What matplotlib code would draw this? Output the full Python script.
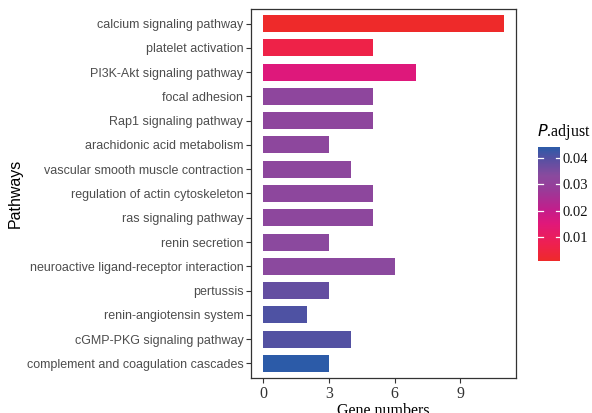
import matplotlib.pyplot as plt
import numpy as np
from matplotlib.colors import LinearSegmentedColormap, Normalize
from matplotlib.cm import ScalarMappable

pathways = ["calcium signaling pathway", "platelet activation", "PI3K-Akt signaling pathway",
            "focal adhesion", "Rap1 signaling pathway", "arachidonic acid metabolism",
            "vascular smooth muscle contraction", "regulation of actin cytoskeleton",
            "ras signaling pathway", "renin secretion", "neuroactive ligand-receptor interaction",
            "pertussis", "renin-angiotensin system", "cGMP-PKG signaling pathway",
            "complement and coagulation cascades"]
gene_numbers = [11, 5, 7, 5, 5, 3, 4, 5, 5, 3, 6, 3, 2, 4, 3]
p_adjust = [0.0009, 0.006, 0.0155, 0.032, 0.032, 0.0325, 0.0325, 0.0325, 0.0325, 0.033,
            0.033, 0.038, 0.0405, 0.040, 0.0442]

# red -> magenta -> purple -> blue, colours
cmap = LinearSegmentedColormap.from_list("padj", [
    (0.0, "#EE2A2A"), (0.15, "#EE2050"), (0.33, "#E0187A"), (0.45, "#C21E8B"),
    (0.62, "#9A3A98"), (0.75, "#8A4A9E"), (0.9, "#5550A2"), (1.0, "#2C5BA8")])
norm = Normalize(min(p_adjust), max(p_adjust))

fig = plt.figure(figsize=(5.92, 4.13), dpi=100)
ax = fig.add_axes([0.424, 0.085, 0.448, 0.893])

y = np.arange(len(pathways))
ax.barh(y, gene_numbers, height=0.7, color=cmap(norm(p_adjust)))
ax.set_ylim(len(pathways) - 0.4, -0.6)
ax.set_xlim(-0.55, 11.55)
ax.set_yticks(y)
ax.set_yticklabels(pathways, fontsize=9.0, color="#4D4D4D", family="Liberation Sans")
ax.set_xticks([0, 3, 6, 9])
ax.set_xticklabels(["0", "3", "6", "9"], fontsize=11.5, color="#333333", family="Liberation Serif")
ax.tick_params(length=3.5, width=0.8, color="#333333", pad=2)
for s in ax.spines.values():
    s.set_color("#333333")
    s.set_linewidth(0.9)
ax.set_xlabel("Gene numbers", fontsize=11.5, family="Liberation Serif", labelpad=1)
ax.set_ylabel("Pathways", fontsize=11.5, family="Liberation Sans")
ax.yaxis.set_label_coords(-0.86, 0.5)

cax = fig.add_axes([0.909, 0.368, 0.037, 0.276])
sm = ScalarMappable(norm=norm, cmap=cmap)
cb = fig.colorbar(sm, cax=cax, ticks=[0.01, 0.02, 0.03, 0.04])
cb.outline.set_visible(False)
cb.ax.set_yticklabels(["0.01", "0.02", "0.03", "0.04"], fontsize=10.5, family="Liberation Serif", color="#111111")
cb.ax.tick_params(length=0, pad=2)
for t in [0.01, 0.02, 0.03, 0.04]:
    cb.ax.plot([0, 0.2], [t, t], color="white", lw=0.9)
    cb.ax.plot([0.8, 1], [t, t], color="white", lw=0.9)
fig.text(0.907, 0.67, "$\\mathit{P}$.adjust", fontsize=11.5, family="Liberation Serif")

plt.savefig("out.png", dpi=100)
